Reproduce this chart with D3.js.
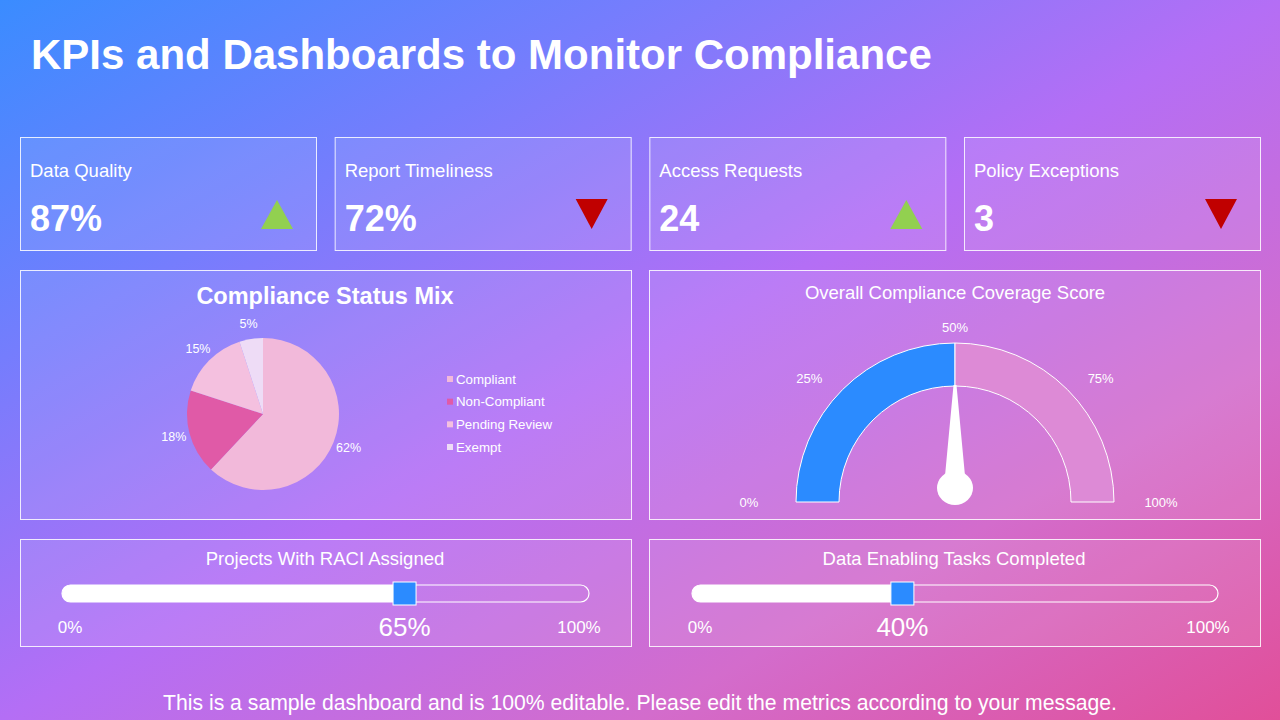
<!DOCTYPE html>
<html>
<head>
<meta charset="utf-8">
<style>
  html, body { margin: 0; padding: 0; }
  body { width: 1280px; height: 720px; overflow: hidden; }
  svg { display: block; font-family: "Liberation Sans", Arial, sans-serif; }
</style>
</head>
<body>
<svg width="1280" height="720"></svg>
<script src="https://d3js.org/d3.v7.min.js"></script>
<script>

// ---- data ----
var kpiNames = ["Data Quality", "Report Timeliness", "Access Requests", "Policy Exceptions"];
var kpiValues = ["87%", "72%", "24", "3"];
var kpiTrend = ["up", "down", "up", "down"];

var statusNames = ["Compliant", "Non-Compliant", "Pending Review", "Exempt"];
var statusShares = [62, 18, 15, 5];

var gaugeTicks = [0, 25, 50, 75, 100];
var gaugeFilled = 50;   // blue band
var gaugeNeedle = 50;   // needle reading

var sliderNames = ["Projects With RACI Assigned", "Data Enabling Tasks Completed"];
var sliderValues = [65, 40];

var svg = d3.select("svg");
var W = 1280, H = 720;

// background gradient
var defs = svg.append("defs");
var bg = defs.append("linearGradient").attr("id", "bg")
  .attr("x1", 0).attr("y1", 0).attr("x2", 1).attr("y2", 1);
bg.append("stop").attr("offset", 0).attr("stop-color", "#3a8cff");
bg.append("stop").attr("offset", 0.25).attr("stop-color", "#757dfd");
bg.append("stop").attr("offset", 0.5).attr("stop-color", "#b46ef5");
bg.append("stop").attr("offset", 0.75).attr("stop-color", "#d36ccc");
bg.append("stop").attr("offset", 1).attr("stop-color", "#e14f99");
svg.append("rect").attr("width", W).attr("height", H).attr("fill", "url(#bg)");

svg.append("text")
  .attr("x", 31).attr("y", 69)
  .attr("fill", "#fff")
  .attr("font-size", 42).attr("font-weight", "bold")
  .text("KPIs and Dashboards to Monitor Compliance");

function panel(x, y, w, h) {
  return svg.append("rect")
    .attr("x", x + 0.5).attr("y", y + 0.5).attr("width", w).attr("height", h)
    .attr("fill", "rgba(255,255,255,0.1)")
    .attr("stroke", "rgba(255,255,255,0.85)")
    .attr("stroke-width", 1);
}

// ---- KPI cards ----
var kpiX = d3.scaleBand().domain(kpiNames).range([20, 1260]).paddingInner(0.0593).paddingOuter(0);
kpiNames.forEach(function(name, i) {
  var x0 = kpiX(name), bw = kpiX.bandwidth();
  panel(x0, 137, bw, 113);
  svg.append("text").attr("x", x0 + 10).attr("y", 177)
    .attr("fill", "#fff").attr("font-size", 18.5).text(name);
  svg.append("text").attr("x", x0 + 10).attr("y", 231)
    .attr("fill", "#fff").attr("font-size", 36).attr("font-weight", "bold").text(kpiValues[i]);
  var cx = x0 + bw - 39, up = kpiTrend[i] === "up";
  var tri = up
    ? [[cx - 16, 229], [cx + 16, 229], [cx, 200]]
    : [[cx - 16, 199], [cx + 16, 199], [cx, 229]];
  svg.append("path")
    .attr("d", d3.line()(tri) + "Z")
    .attr("fill", up ? "#92d050" : "#c00000");
});

// ---- pie ----
panel(20, 270, 611, 249);
svg.append("text").attr("x", 325).attr("y", 304).attr("text-anchor", "middle")
  .attr("fill", "#fff").attr("font-size", 23.5).attr("font-weight", "bold")
  .text("Compliance Status Mix");

var pieColor = d3.scaleOrdinal().domain(statusNames)
  .range(["#f2b9da", "#e05aa7", "#f4c0df", "#eedcf6"]);
var pieData = d3.pie().sort(null)(statusShares);
var arc = d3.arc().innerRadius(0).outerRadius(76);
var labelArc = d3.arc().innerRadius(92).outerRadius(92);
var pg = svg.append("g").attr("transform", "translate(263,414)");
pg.selectAll("path").data(pieData).enter().append("path")
  .attr("d", arc)
  .attr("fill", function(d, i) { return pieColor(statusNames[i]); });
pg.selectAll("text").data(pieData).enter().append("text")
  .attr("transform", function(d) { return "translate(" + labelArc.centroid(d) + ")"; })
  .attr("text-anchor", "middle").attr("dy", "0.35em")
  .attr("fill", "#fff").attr("font-size", 12.5)
  .text(function(d) { return d.data + "%"; });

var legY = d3.scalePoint().domain(statusNames).range([379, 447]);
var leg = svg.append("g");
statusNames.forEach(function(n) {
  leg.append("rect").attr("x", 447).attr("y", legY(n) - 3).attr("width", 6).attr("height", 6)
    .attr("fill", pieColor(n));
  leg.append("text").attr("x", 456).attr("y", legY(n)).attr("dy", "0.35em")
    .attr("fill", "#fff").attr("font-size", 13.3).text(n);
});

// ---- gauge ----
panel(649, 270, 611, 249);
svg.append("text").attr("x", 955).attr("y", 299).attr("text-anchor", "middle")
  .attr("fill", "#fff").attr("font-size", 18.5).text("Overall Compliance Coverage Score");

var gcx = 955, gcy = 502;
var ang = d3.scaleLinear().domain([0, 100]).range([-Math.PI / 2, Math.PI / 2]);
var gArc = d3.arc().innerRadius(116).outerRadius(159);
var gg = svg.append("g").attr("transform", "translate(" + gcx + "," + gcy + ")");
gg.append("path")
  .attr("d", gArc({ startAngle: ang(0), endAngle: ang(gaugeFilled) }))
  .attr("fill", "#2b8bff").attr("stroke", "#fff").attr("stroke-width", 1);
gg.append("path")
  .attr("d", gArc({ startAngle: ang(gaugeFilled), endAngle: ang(100) }))
  .attr("fill", "#dd8ad6").attr("stroke", "#fff").attr("stroke-width", 1);

gaugeTicks.forEach(function(t) {
  var a = ang(t);
  gg.append("text")
    .attr("x", 206 * Math.sin(a)).attr("y", -175 * Math.cos(a))
    .attr("dy", "0.35em").attr("text-anchor", "middle")
    .attr("fill", "#fff").attr("font-size", 13).text(t + "%");
});

// needle
var na = ang(gaugeNeedle);
var needle = gg.append("g").attr("transform", "rotate(" + (na * 180 / Math.PI) + ",0,-14)");
needle.append("path")
  .attr("d", d3.line()([[-1.5, -117], [1.5, -117], [10, -26], [-10, -26]]) + "Z")
  .attr("fill", "#fff");
gg.append("ellipse").attr("cx", 0).attr("cy", -14).attr("rx", 18).attr("ry", 17).attr("fill", "#fff");

// ---- sliders ----
var sliderPanels = [[20, 539], [649, 539]];
var trackRange = [[62, 589], [692, 1218]];
sliderNames.forEach(function(name, i) {
  var px = sliderPanels[i][0], py = sliderPanels[i][1];
  panel(px, py, 611, 107);
  svg.append("text").attr("x", px + 305).attr("y", py + 26).attr("text-anchor", "middle")
    .attr("fill", "#fff").attr("font-size", 18.5).text(name);

  var sx = d3.scaleLinear().domain([0, 100]).range(trackRange[i]);
  var ty = 585, th = 17;
  svg.append("rect").attr("x", sx(0)).attr("y", ty).attr("width", sx(100) - sx(0)).attr("height", th)
    .attr("rx", th / 2).attr("fill", "none").attr("stroke", "#fff").attr("stroke-width", 1.2);
  svg.append("rect").attr("x", sx(0)).attr("y", ty).attr("width", sx(sliderValues[i]) - sx(0) + th / 2).attr("height", th)
    .attr("rx", th / 2).attr("fill", "#fff");
  svg.append("rect").attr("x", sx(sliderValues[i]) - 11.5).attr("y", ty - 3).attr("width", 23).attr("height", 23)
    .attr("fill", "#2b8bff").attr("stroke", "#fff").attr("stroke-width", 1);

  svg.append("text").attr("x", sx(0) + 8).attr("y", 633).attr("text-anchor", "middle")
    .attr("fill", "#fff").attr("font-size", 17).text("0%");
  svg.append("text").attr("x", sx(100) - 10).attr("y", 633).attr("text-anchor", "middle")
    .attr("fill", "#fff").attr("font-size", 17).text("100%");
  svg.append("text").attr("x", sx(sliderValues[i])).attr("y", 636).attr("text-anchor", "middle")
    .attr("fill", "#fff").attr("font-size", 26).text(sliderValues[i] + "%");
});

svg.append("text").attr("x", 640).attr("y", 710).attr("text-anchor", "middle")
  .attr("fill", "#fff").attr("font-size", 21.2)
  .text("This is a sample dashboard and is 100% editable. Please edit the metrics according to your message.");

</script>
</body>
</html>
